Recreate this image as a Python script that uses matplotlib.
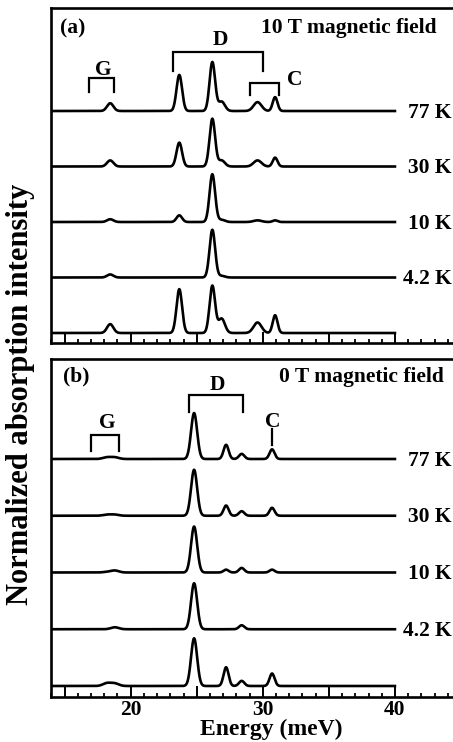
import numpy as np
import matplotlib
matplotlib.use("Agg")
import matplotlib.pyplot as plt
from matplotlib.ticker import MultipleLocator, FuncFormatter

plt.rcParams['font.family'] = ['Liberation Serif', 'DejaVu Serif']
plt.rcParams['font.weight'] = 'bold'

# ---------------- data ----------------
temps = ["77 K", "30 K", "10 K", "4.2 K"]

# panel (a): 10 T field. peak centres (meV) and widths (meV)
peaks_a = [18.45, 23.68, 26.18, 26.88, 29.6, 30.93]
widths_a = [0.24, 0.21, 0.21, 0.25, 0.3, 0.18]
h_a_77 = [0.14, 0.65, 0.88, 0.17, 0.16, 0.25]
h_a_30 = [0.11, 0.43, 0.86, 0.11, 0.11, 0.16]
h_a_10 = [0.05, 0.12, 0.86, 0.04, 0.03, 0.03]
h_a_42 = [0.055, 0.0, 0.86, 0.03, 0.0, 0.0]
h_a_ref = [0.16, 0.79, 0.85, 0.26, 0.19, 0.32]

# panel (b): 0 T field
peaks_b = [18.2, 18.8, 24.8, 27.22, 28.4, 30.7]
widths_b = [0.3, 0.3, 0.23, 0.19, 0.2, 0.19]
h_b_77 = [0.03, 0.03, 0.81, 0.25, 0.09, 0.17]
h_b_30 = [0.02, 0.02, 0.81, 0.18, 0.08, 0.14]
h_b_10 = [0.01, 0.035, 0.81, 0.05, 0.08, 0.05]
h_b_42 = [0.0, 0.035, 0.81, 0.0, 0.07, 0.0]
h_b_ref = [0.05, 0.045, 0.84, 0.33, 0.09, 0.22]

offsets = [4, 3, 2, 1, 0]
e_min, e_max = 14, 40

# ---------------- figure ----------------
W, H = 453, 742
fig = plt.figure(figsize=(W / 100, H / 100), dpi=100)

def px_axes(left, top, right, bottom):
    return fig.add_axes([left / W, 1 - bottom / H, (right - left) / W, (bottom - top) / H])

ax_a = px_axes(51.4, 8, 461, 343)
ax_b = px_axes(51.4, 359, 461, 697)

E = np.linspace(e_min, e_max, 2000)

def spectrum(centres, widths, heights):
    y = np.zeros_like(E)
    for c, w, h in zip(centres, widths, heights):
        y += h * np.exp(-0.5 * ((E - c) / w) ** 2)
    return y

LW = 1.9
FS = 15.5

def style(ax, ylim, labels):
    ax.set_xlim(14, 45)
    ax.set_ylim(*ylim)
    ax.xaxis.set_major_locator(MultipleLocator(5))
    ax.xaxis.set_minor_locator(MultipleLocator(1))
    ax.tick_params(axis='x', which='major', direction='in', length=8, width=1.4,
                   labelsize=FS, pad=2, top=False)
    ax.tick_params(axis='x', which='minor', direction='in', length=3, width=1.3, top=False)
    ax.set_yticks([])
    for s in ax.spines.values():
        s.set_linewidth(1.9)
    if labels:
        ax.xaxis.set_major_formatter(FuncFormatter(
            lambda v, p: f"{int(v)}" if v % 10 == 0 and v <= 40 else ""))
    else:
        ax.xaxis.set_major_formatter(FuncFormatter(lambda v, p: ""))
    for t in ax.get_xticklabels():
        t.set_fontweight('bold')

def bracket(ax, x0, x1, ytop, ybot):
    ax.plot([x0, x0, x1, x1], [ybot, ytop, ytop, ybot], color='black', lw=1.6,
            solid_joinstyle='miter')

# panel (a)
set_a = [h_a_77, h_a_30, h_a_10, h_a_42, h_a_ref]
for off, h in zip(offsets, set_a):
    ax_a.plot(E, off + spectrum(peaks_a, widths_a, h), color='black', lw=LW)
for off, t in zip(offsets[:4], temps):
    ax_a.text(44.31, off - 0.03, t, ha='right', va='center', fontsize=FS, fontweight='bold')
style(ax_a, (-0.18, 5.856), False)
ax_a.text(0.021, 0.925, "(a)", transform=ax_a.transAxes, ha='left', va='baseline',
          fontsize=FS, fontweight='bold')
ax_a.text(0.9414, 0.925, "10 T magnetic field", transform=ax_a.transAxes, ha='right',
          va='baseline', fontsize=FS, fontweight='bold')
bracket(ax_a, 16.87, 18.74, 4.59, 4.35)
bracket(ax_a, 23.22, 29.99, 5.07, 4.72)
bracket(ax_a, 29.03, 31.25, 4.50, 4.28)
ax_a.text(17.9, 4.65, "G", ha='center', va='baseline', fontsize=FS, fontweight='bold')
ax_a.text(26.76, 5.19, "D", ha='center', va='baseline', fontsize=FS, fontweight='bold')
ax_a.text(32.43, 4.47, "C", ha='center', va='baseline', fontsize=FS, fontweight='bold')

# panel (b)
set_b = [h_b_77, h_b_30, h_b_10, h_b_42, h_b_ref]
for off, h in zip(offsets, set_b):
    ax_b.plot(E, off + spectrum(peaks_b, widths_b, h), color='black', lw=LW)
for off, t in zip(offsets[:4], temps):
    ax_b.text(44.31, off - 0.03, t, ha='right', va='center', fontsize=FS, fontweight='bold')
style(ax_b, (-0.194, 5.762), True)
ax_b.text(0.028, 0.933, "(b)", transform=ax_b.transAxes, ha='left', va='baseline',
          fontsize=FS, fontweight='bold')
ax_b.text(0.9585, 0.933, "0 T magnetic field", transform=ax_b.transAxes, ha='right',
          va='baseline', fontsize=FS, fontweight='bold')
bracket(ax_b, 16.97, 19.12, 4.42, 4.14)
bracket(ax_b, 24.44, 28.48, 5.12, 4.83)
ax_b.plot([30.73, 30.73], [4.25, 4.52], color='black', lw=1.6)
ax_b.text(18.25, 4.55, "G", ha='center', va='baseline', fontsize=FS, fontweight='bold')
ax_b.text(26.53, 5.22, "D", ha='center', va='baseline', fontsize=FS, fontweight='bold')
ax_b.text(30.73, 4.57, "C", ha='center', va='baseline', fontsize=FS, fontweight='bold')

fig.text(21 / W, 1 - 394 / H, "Normalized absorption intensity", rotation=90,
         ha='center', va='center', fontsize=22, fontweight='bold')
fig.text(271.5 / W, 1 - 735.5 / H, "Energy (meV)", ha='center', va='baseline',
         fontsize=17, fontweight='bold')

fig.savefig("out.png", dpi=100)
